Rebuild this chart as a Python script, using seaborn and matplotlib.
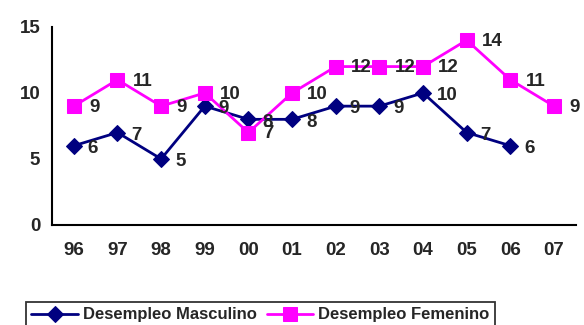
import seaborn as sns
import numpy as np
import pandas as pd
import matplotlib.pyplot as plt

years = ["96", "97", "98", "99", "00", "01", "02", "03", "04", "05", "06", "07"]
masculino = [6, 7, 5, 9, 8, 8, 9, 9, 10, 7, 6]
femenino = [9, 11, 9, 10, 7, 10, 12, 12, 12, 14, 11, 9]

sns.set_style("white")
plt.rcParams['font.family'] = ['Liberation Sans', 'DejaVu Sans']
plt.rcParams['font.weight'] = 'bold'

df_m = pd.DataFrame({"pos": np.arange(len(masculino)), "valor": masculino})
df_f = pd.DataFrame({"pos": np.arange(len(femenino)), "valor": femenino})

fig = plt.figure(figsize=(5.84, 3.25), dpi=100)
ax = fig.add_axes([0.089, 0.308, 0.897, 0.609])

sns.lineplot(data=df_m, x="pos", y="valor", ax=ax, color="#000080", marker="D",
             markersize=8.5, markeredgecolor="#000080", linewidth=2,
             label="Desempleo Masculino", legend=False)
sns.lineplot(data=df_f, x="pos", y="valor", ax=ax, color="#FF00FF", marker="s",
             markersize=10.5, markeredgecolor="#FF00FF", linewidth=2,
             label="Desempleo Femenino", legend=False)

for x, v in zip(df_m["pos"], df_m["valor"]):
    ax.annotate(str(v), (x, v), xytext=(10, -2), textcoords="offset points",
                ha="left", va="center", fontsize=13.5, fontweight="bold")
for x, v in zip(df_f["pos"], df_f["valor"]):
    ax.annotate(str(v), (x, v), xytext=(11, -1), textcoords="offset points",
                ha="left", va="center", fontsize=13.5, fontweight="bold")

ax.set_xlim(-0.5, len(years) - 0.5)
ax.set_ylim(0, 15)
ax.set_yticks([0, 5, 10, 15])
ax.set_xticks(np.arange(-0.5, len(years)), labels=[])
ax.set_xticks(np.arange(len(years)), labels=years, minor=True)
ax.tick_params(axis="x", which="major", length=5, width=1.3, direction="out", color="black")
ax.tick_params(axis="x", which="minor", length=0, pad=12, labelsize=13.5)
ax.tick_params(axis="y", length=5, width=1.3, direction="out", color="black", labelsize=13.5)
for lab in ax.get_xticklabels(minor=True) + ax.get_yticklabels():
    lab.set_fontweight("bold")
ax.set_xlabel("")
ax.set_ylabel("")
for s in ["top", "right"]:
    ax.spines[s].set_visible(False)
for s in ["left", "bottom"]:
    ax.spines[s].set_color("black")
    ax.spines[s].set_linewidth(1.5)

handles, labels = ax.get_legend_handles_labels()
leg = fig.legend(handles, labels, loc="upper center", bbox_to_anchor=(0.446, 0.095),
                 ncol=2, frameon=True, fancybox=False, edgecolor="black",
                 prop={"weight": "bold", "size": 12},
                 handlelength=2.8, columnspacing=0.6, handletextpad=0.3,
                 borderpad=0.3)
leg.get_frame().set_linewidth(1.3)

plt.savefig("out.png", dpi=100)
